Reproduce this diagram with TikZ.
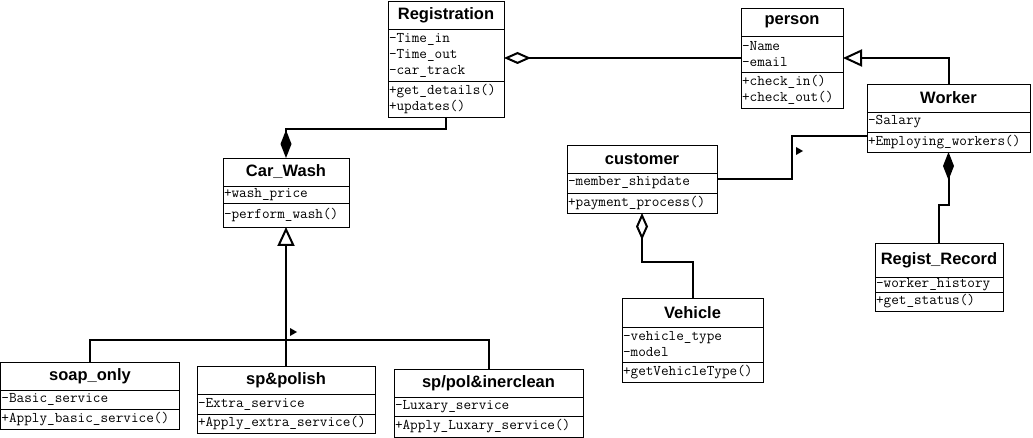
\documentclass[tikz,border=0pt]{standalone}
\usepackage{fontspec}
\newfontfamily\titlefont{Liberation Sans}
\usetikzlibrary{positioning,arrows.meta}

\begin{document}
\begin{tikzpicture}[
  x=1pt, y=-1pt,
  cls/.style={draw,line width=0.8pt,inner sep=0pt,outer sep=0pt},
  clstitle/.style={cls,anchor=north west,minimum height=28pt,
    font=\titlefont\bfseries\fontsize{16.5}{18}\selectfont},
  clspart/.style={cls,align=left,inner xsep=1pt,
    font=\ttfamily\fontsize{14.8}{16}\selectfont},
  link/.style={line width=2pt},
  aggr/.style={link,-{Diamond[open,length=27pt,width=12pt]}},
  comp/.style={link,-{Diamond[length=28pt,width=11pt]}},
  gen/.style={link,-{Triangle[open,length=19pt,width=17pt]}},
]
\useasboundingbox (0,0) rectangle (1033,438);

% ----- Registration -----
\node[clstitle,minimum width=116pt] (reg) at (388,1) {Registration};
\node[clspart,below=0pt of reg,text width=114pt,minimum height=52pt] (regA)
  {-Time\_in\\-Time\_out\\-car\_track};
\node[clspart,below=0pt of regA,text width=114pt,minimum height=36pt] (regM)
  {+get\_details()\\+updates()};

% ----- person -----
\node[clstitle,minimum width=102pt] (pers) at (741,8) {person};
\node[clspart,below=0pt of pers,text width=100pt,minimum height=36pt] (persA)
  {-Name\\-email};
\node[clspart,below=0pt of persA,text width=100pt,minimum height=36pt] (persM)
  {+check\_in()\\+check\_out()};

% ----- Worker -----
\node[clstitle,minimum width=163pt] (work) at (867,84) {Worker};
\node[clspart,below=0pt of work,text width=161pt,minimum height=20pt] (workA)
  {-Salary};
\node[clspart,below=0pt of workA,text width=161pt,minimum height=20pt] (workM)
  {+Employing\_workers()};

% ----- customer -----
\node[clstitle,minimum width=150pt] (cust) at (567,145) {customer};
\node[clspart,below=0pt of cust,text width=148pt,minimum height=20pt] (custA)
  {-member\_shipdate};
\node[clspart,below=0pt of custA,text width=148pt,minimum height=20pt] (custM)
  {+payment\_process()};

% ----- Car_Wash -----
\node[clstitle,minimum width=126pt] (wash) at (223,158) {Car\_Wash};
\node[clspart,below=0pt of wash,text width=124pt,minimum height=17pt] (washA)
  {+wash\_price};
\node[clspart,below=0pt of washA,text width=124pt,minimum height=24pt] (washM)
  {-perform\_wash()};

% ----- soap_only -----
\node[clstitle,minimum width=179pt] (soap) at (0.5,362) {soap\_only};
\node[clspart,below=0pt of soap,text width=177pt,minimum height=19pt] (soapA)
  {-Basic\_service};
\node[clspart,below=0pt of soapA,text width=177pt,minimum height=20pt] (soapM)
  {+Apply\_basic\_service()};

% ----- sp&polish -----
\node[clstitle,minimum width=178pt] (pol) at (197,366) {sp\&polish};
\node[clspart,below=0pt of pol,text width=176pt,minimum height=20pt] (polA)
  {-Extra\_service};
\node[clspart,below=0pt of polA,text width=176pt,minimum height=19pt] (polM)
  {+Apply\_extra\_service()};

% ----- sp/pol&inerclean -----
\node[clstitle,minimum width=189pt] (lux) at (394,369) {sp/pol\&inerclean};
\node[clspart,below=0pt of lux,text width=187pt,minimum height=19pt] (luxA)
  {-Luxary\_service};
\node[clspart,below=0pt of luxA,text width=187pt,minimum height=21pt] (luxM)
  {+Apply\_Luxary\_service()};

% ----- Vehicle -----
\node[clstitle,minimum width=141pt,minimum height=29pt] (veh) at (622,298) {Vehicle};
\node[clspart,below=0pt of veh,text width=139pt,minimum height=35pt] (vehA)
  {-vehicle\_type\\-model};
\node[clspart,below=0pt of vehA,text width=139pt,minimum height=20pt] (vehM)
  {+getVehicleType()};

% ----- Regist_Record -----
\node[clstitle,minimum width=128pt,minimum height=34pt] (rec) at (875,243) {Regist\_Record};
\node[clspart,below=0pt of rec,text width=126pt,minimum height=15pt] (recA)
  {-worker\_history};
\node[clspart,below=0pt of recA,text width=126pt,minimum height=19pt] (recM)
  {+get\_status()};

% ----- links -----
\draw[aggr] ([yshift=-4pt]persA.west) -- ([yshift=-4pt]persA.west -| regA.east);
\draw[comp] (regM.south) -- ++(0,12) -| (wash.north);
\draw[gen] (pol.north) -- (washM.south);
\draw[link] (soap.north) -- ++(0,-22) -| (lux.north);
\draw[gen] (work.north) |- ([yshift=-4pt]persA.east);
\draw[link] ([yshift=4pt]custA.east) -- ++(75,0) |- ([yshift=6pt]workM.west);
\draw[comp] (rec.north) -- ++(0,-38) -| (workM.south);
\draw[aggr] (veh.north) -- ++(0,-36) -| (custM.south);

% small direction marks
\fill (290,328) -- ++(7,4) -- ++(-7,4) -- cycle;
\fill (796,147) -- ++(7,4) -- ++(-7,4) -- cycle;

\end{tikzpicture}
\end{document}
